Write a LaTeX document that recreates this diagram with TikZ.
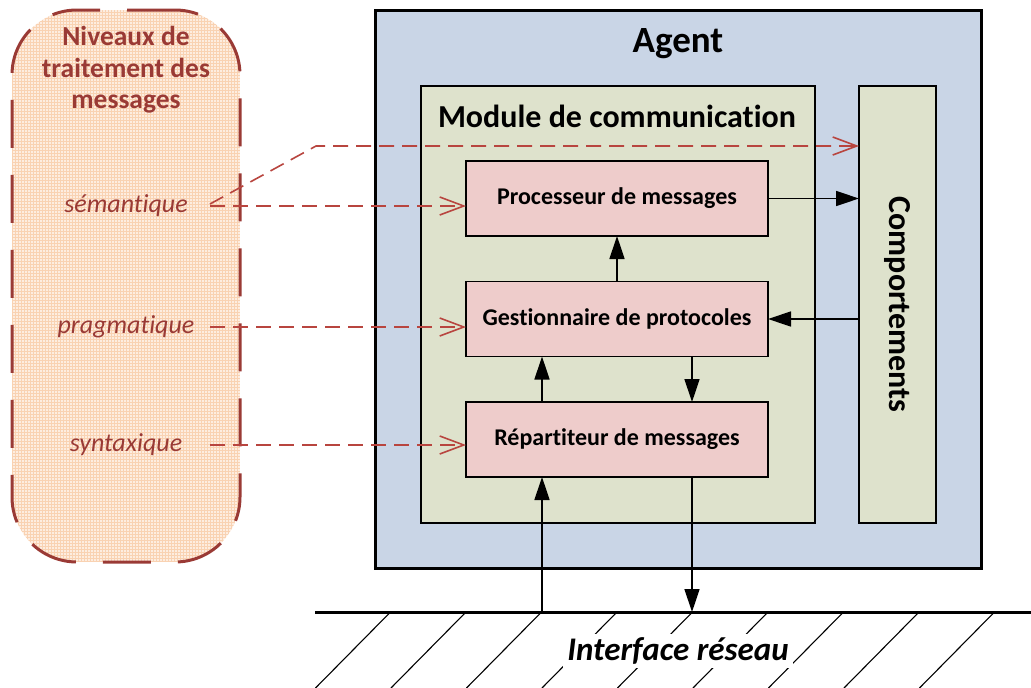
\documentclass[tikz,border=0pt]{standalone}
\usepackage{fontspec}
\setmainfont{Carlito}[Ligatures=NoCommon]
\usetikzlibrary{arrows.meta}
\definecolor{agentblue}{HTML}{C9D5E6}
\definecolor{modgreen}{HTML}{DEE2CC}
\definecolor{boxpink}{HTML}{EECCCB}
\definecolor{niveaufill}{HTML}{FDEDE0}
\definecolor{niveaugrid}{HTML}{F9D2B2}
\definecolor{darkred}{HTML}{9A3A35}
\definecolor{dashred}{HTML}{B8453F}
\begin{document}
\begin{tikzpicture}[x=1pt,y=-1pt,
  every node/.style={outer sep=0pt},
  procbox/.style={draw=black, line width=1.3pt, fill=boxpink, minimum width=302pt, minimum height=75pt, font=\bfseries\fontsize{24}{28}\selectfont},
  flow/.style={line width=1.4pt, -{Triangle[length=23pt,width=15pt]}},
  dasharrow/.style={draw=dashred, line width=1.6pt, dash pattern=on 15pt off 8pt, -{Straight Barb[length=24pt,width=18pt,line width=1.6pt]}},
  lvl/.style={text=darkred, font=\itshape\fontsize{26}{30}\selectfont},
  hatchline/.style={line width=1.1pt}
]
\useasboundingbox (0,0) rectangle (1031,688);

% left panel
\begin{scope}
  \clip[rounded corners=65pt] (12,10) rectangle (240,562);
  \fill[niveaufill] (12,10) rectangle (240,562);
  \draw[niveaugrid, line width=0.45pt, step=3pt] (12,10) grid (240,562);
\end{scope}
\node (niv) [draw=darkred, line width=3pt, dash pattern=on 48pt off 27pt, rounded corners=65pt, minimum width=228pt, minimum height=552pt] at (126,286) {};
\node (title) [text=darkred, align=center, font=\bfseries\fontsize{27.5}{31.5}\selectfont] at (126,70) {Niveaux de\\traitement des\\messages};
\node (sem) [lvl] at (126,206) {sémantique};
\node (prag) [lvl] at (126,327) {pragmatique};
\node (syn) [lvl] at (126,445) {syntaxique};
\coordinate (lx) at (210,0);

% agent
\node (agent) [draw, line width=3pt, fill=agentblue, minimum width=606pt, minimum height=558pt] at (678,289) {};
\node (agentlbl) [font=\bfseries\fontsize{37}{42}\selectfont] at (678,44) {Agent};
\node (mod) [draw, line width=1.8pt, fill=modgreen, minimum width=394pt, minimum height=437pt] at (618,304.5) {};
\node (modlbl) [font=\bfseries\fontsize{32}{37}\selectfont] at (617,116) {Module de communication};
\node (comp) [draw, line width=1.8pt, fill=modgreen, minimum width=77pt, minimum height=437pt] at (897.5,304.5) {};
\node (complbl) [rotate=-90, font=\bfseries\fontsize{32}{37}\selectfont] at (comp.center) {Comportements};

\node (proc) [procbox] at (617,198.5) {Processeur de messages};
\node (gest) [procbox] at (617,319) {Gestionnaire de protocoles};
\node (rep) [procbox] at (617,439.5) {Répartiteur de messages};

% flows
\draw[flow] (proc.east) -- (proc.east -| comp.west);
\draw[flow] (gest.east -| comp.west) -- (gest.east);
\draw[flow] (gest.north) -- (proc.south);
\draw[flow] ([xshift=-75pt]rep.north) -- ([xshift=-75pt]gest.south);
\draw[flow] ([xshift=75pt]gest.south) -- ([xshift=75pt]rep.north);

% network
\coordinate (netL) at (315,612);
\coordinate (netR) at (1031,612);
\foreach \k in {-1,...,7} \draw[hatchline] ({466+75.5*\k},612) -- ({466+75.5*\k-75},688);
\draw[line width=3pt] (netL) -- (netR);
\node (net) [fill=white, inner sep=4pt, font=\bfseries\itshape\fontsize{33}{38}\selectfont] at (678,651) {Interface réseau};
\draw[flow] ([xshift=-75pt]rep.south |- netL) -- ([xshift=-75pt]rep.south);
\draw[flow] ([xshift=75pt]rep.south) -- ([xshift=75pt]rep.south |- netL);

% dashed level arrows
\coordinate (bend) at (316,146);
\draw[dasharrow] ([yshift=2pt]sem -| lx) -- (bend) -- (bend -| comp.west);
\draw[dasharrow] (sem -| lx) -- (sem -| proc.west);
\draw[dasharrow] (prag -| lx) -- (prag -| gest.west);
\draw[dasharrow] (syn -| lx) -- (syn -| rep.west);
\end{tikzpicture}
\end{document}
